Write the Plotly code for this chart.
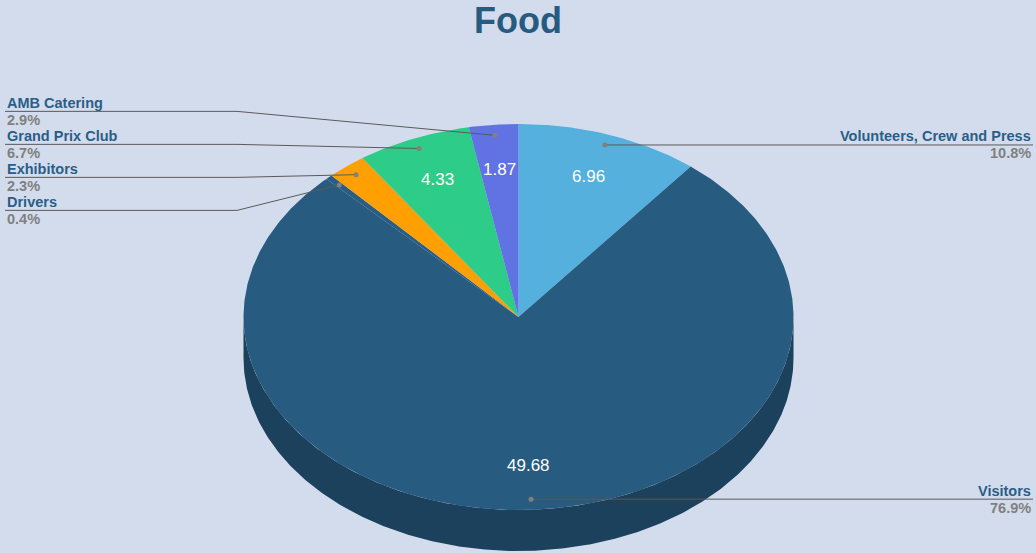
import math
import plotly.graph_objects as go

# Food breakdown by group
categories = ["Volunteers, Crew and Press", "Visitors", "Drivers",
              "Exhibitors", "Grand Prix Club", "AMB Catering"]
values = [6.96, 49.68, 0.26, 1.49, 4.33, 1.87]
colors = ["#55b0de", "#275b80", "#2a5d84", "#ffa000", "#2ecc89", "#6173e3"]

TITLE = "Food"
BG = "#d3dcec"
W, H = 1036, 553
FONT = "Liberation Sans, Arial, sans-serif"

# Tilted pie geometry (pixel space)
CX, CY = 518.5, 317.0
RX, RY = 275.0, 193.0
DEPTH = 41.0
LABEL_GAP = 33.0
LEFT_BEND, LEFT_EDGE = 237.0, 5.0
RIGHT_BEND, RIGHT_EDGE = W - 237.0, W - 3.0


def darken(hex_color, f=0.72):
    h = hex_color.lstrip("#")
    r, g, b = (int(h[i:i + 2], 16) for i in (0, 2, 4))
    return "#%02x%02x%02x" % (int(r * f), int(g * f), int(b * f))


def pt(theta_deg, r=1.0, dy=0.0):
    t = math.radians(theta_deg)
    return CX + r * RX * math.sin(t), CY - r * RY * math.cos(t) + dy


def arc(a0, a1, r=1.0, dy=0.0, step=0.5):
    n = max(2, int(abs(a1 - a0) / step) + 1)
    return [pt(a0 + (a1 - a0) * i / (n - 1), r, dy) for i in range(n)]


total = sum(values)
pcts = [v / total * 100 for v in values]
starts, ends = [], []
acc = 0.0
for v in values:
    starts.append(acc / total * 360)
    acc += v
    ends.append(acc / total * 360)
mids = [(a + b) / 2 for a, b in zip(starts, ends)]

fig = go.Figure()

# side walls (front half only: 90..270 degrees)
for a0, a1, c in zip(starts, ends, colors):
    s, e = max(a0, 90.0), min(a1, 270.0)
    if e <= s:
        continue
    top = arc(s, e)
    bot = arc(e, s, dy=DEPTH)
    pts = top + bot
    fig.add_trace(go.Scatter(
        x=[p[0] for p in pts] + [pts[0][0]], y=[p[1] for p in pts] + [pts[0][1]],
        mode="lines", fill="toself", fillcolor=darken(c),
        line=dict(width=0, color=darken(c)), hoverinfo="skip", showlegend=False))

# top faces
for a0, a1, c in zip(starts, ends, colors):
    pts = [(CX, CY)] + arc(a0, a1) + [(CX, CY)]
    fig.add_trace(go.Scatter(
        x=[p[0] for p in pts], y=[p[1] for p in pts],
        mode="lines", fill="toself", fillcolor=c,
        line=dict(width=0, color=c), hoverinfo="skip", showlegend=False))


def distribute(targets, gap):
    # merge overlapping labels into clusters centred on their targets
    order = sorted(range(len(targets)), key=lambda i: targets[i])
    clusters = [[i] for i in order]
    changed = True
    while changed:
        changed = False
        centres = []
        for cl in clusters:
            m = sum(targets[i] for i in cl) / len(cl)
            centres.append(m - gap * (len(cl) - 1) / 2)
        for k in range(len(clusters) - 1):
            end_k = centres[k] + gap * (len(clusters[k]) - 1)
            if centres[k + 1] - end_k < gap:
                clusters[k] = clusters[k] + clusters[k + 1]
                del clusters[k + 1]
                changed = True
                break
    pos = {}
    for cl in clusters:
        m = sum(targets[i] for i in cl) / len(cl)
        top = m - gap * (len(cl) - 1) / 2
        for j, i in enumerate(cl):
            pos[i] = top + gap * j
    return pos


dots = [pt(m, 0.945) for m in mids]
left = [i for i, m in enumerate(mids) if math.sin(math.radians(m)) < 0]
right = [i for i in range(len(values)) if i not in left]
label_y = {}
for side in (left, right):
    p = distribute([dots[i][1] for i in side], LABEL_GAP)
    for k, i in enumerate(side):
        label_y[i] = p[k]

annotations = []
for i, name in enumerate(categories):
    dx, dy = dots[i]
    ly = label_y[i]
    if i in left:
        xs, ys = [dx, LEFT_BEND, LEFT_EDGE], [dy, ly, ly]
        ax, anchor = LEFT_EDGE, "left"
    else:
        xs, ys = [dx, RIGHT_BEND, RIGHT_EDGE], [dy, ly, ly]
        ax, anchor = RIGHT_EDGE, "right"
    fig.add_trace(go.Scatter(x=xs, y=ys, mode="lines",
                             line=dict(color="#5a5a5a", width=1),
                             hoverinfo="skip", showlegend=False))
    fig.add_trace(go.Scatter(x=[dx], y=[dy], mode="markers",
                             marker=dict(color="#808080", size=5),
                             hoverinfo="skip", showlegend=False))
    annotations.append(dict(
        x=ax, y=ly - 8.5, xref="x", yref="y", xanchor=anchor, yanchor="middle",
        showarrow=False, text=f"<b>{name}</b>",
        font=dict(family=FONT, size=14.5, color="#2a5e88")))
    annotations.append(dict(
        x=ax, y=ly + 8.5, xref="x", yref="y", xanchor=anchor, yanchor="middle",
        showarrow=False, text=f"<b>{pcts[i]:.1f}%</b>",
        font=dict(family=FONT, size=14.5, color="#808080")))

# values inside the larger slices
for i, v in enumerate(values):
    if pcts[i] < 2.5:
        continue
    x, y = pt(mids[i], 0.77)
    annotations.append(dict(
        x=x, y=y, xref="x", yref="y", showarrow=False, text=f"{v:g}",
        font=dict(family=FONT, size=17, color="white")))

annotations.append(dict(
    x=W / 2, y=20, xref="x", yref="y", showarrow=False, text=f"<b>{TITLE}</b>",
    font=dict(family=FONT, size=36, color="#265a80")))

fig.update_layout(
    width=W, height=H, margin=dict(l=0, r=0, t=0, b=0),
    paper_bgcolor=BG, plot_bgcolor=BG,
    xaxis=dict(range=[0, W], visible=False, fixedrange=True),
    yaxis=dict(range=[H, 0], visible=False, fixedrange=True),
    annotations=annotations, showlegend=False)

fig.write_html("out.html")
